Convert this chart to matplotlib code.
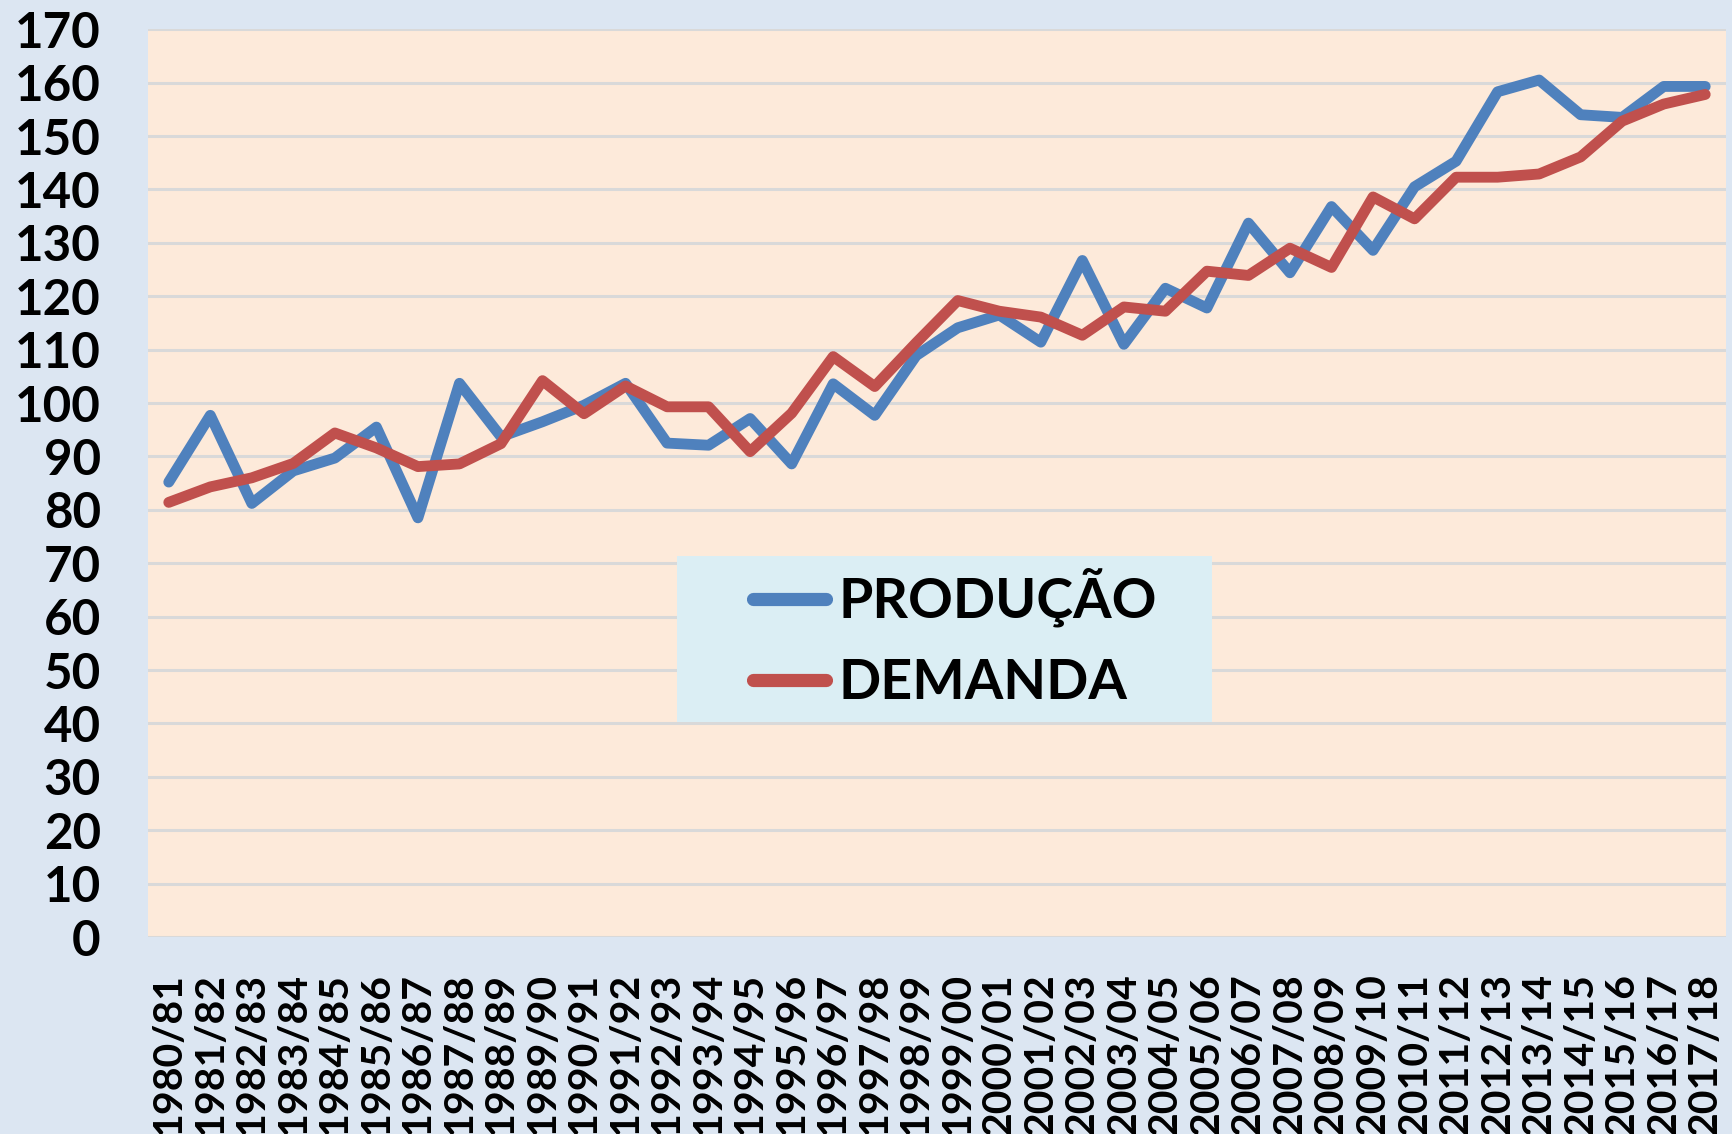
import matplotlib
matplotlib.use("Agg")
import matplotlib.pyplot as plt
from matplotlib.patches import Rectangle

# ---------- dados ----------
safras = ["1980/81", "1981/82", "1982/83", "1983/84", "1984/85", "1985/86",
          "1986/87", "1987/88", "1988/89", "1989/90", "1990/91", "1991/92",
          "1992/93", "1993/94", "1994/95", "1995/96", "1996/97", "1997/98",
          "1998/99", "1999/00", "2000/01", "2001/02", "2002/03", "2003/04",
          "2004/05", "2005/06", "2006/07", "2007/08", "2008/09", "2009/10",
          "2010/11", "2011/12", "2012/13", "2013/14", "2014/15", "2015/16",
          "2016/17", "2017/18"]

producao = [85.2, 97.7, 81.2, 87.3, 89.7, 95.5, 78.5, 103.7, 93.7, 96.5,
            99.6, 103.7, 92.5, 92.1, 97.1, 88.6, 103.6, 97.7, 108.9, 114.1,
            116.5, 111.4, 126.7, 111.0, 121.5, 117.8, 133.7, 124.4, 136.8,
            128.6, 140.5, 145.3, 158.3, 160.5, 154.0, 153.5, 159.3, 159.3]

demanda = [81.4, 84.3, 86.0, 88.7, 94.4, 91.6, 88.1, 88.6, 92.4, 104.2,
           98.0, 103.2, 99.3, 99.3, 90.9, 98.1, 108.7, 103.1, 111.3, 119.2,
           117.2, 116.1, 112.7, 118.0, 117.2, 124.7, 123.9, 129.0, 125.4,
           138.6, 134.5, 142.3, 142.3, 142.9, 146.1, 152.8, 156.0, 157.8]

yticks = list(range(0, 171, 10))

# ---------- estilo ----------
plt.rcParams['font.family'] = ["Lato", "DejaVu Sans"]
plt.rcParams['font.weight'] = 'bold'

W, H = 1733, 1134
fig = plt.figure(figsize=(W / 100, H / 100), dpi=100, facecolor="#DCE6F2")
ax = fig.add_axes([148 / W, (H - 937) / H, 1578 / W, 907.7 / H])
ax.set_facecolor("#FDEADA")

x = list(range(len(safras)))
ax.plot(x, producao, color="#4F81BD", lw=7.8, label="PRODUÇÃO",
        solid_joinstyle="round", solid_capstyle="round", zorder=3)
ax.plot(x, demanda, color="#C0504D", lw=7.8, label="DEMANDA",
        solid_joinstyle="round", solid_capstyle="round", zorder=4)

ax.set_xlim(-0.5, len(safras) - 0.5)
ax.set_ylim(0, 170)
ax.set_yticks(yticks)
ax.set_yticklabels([str(v) for v in yticks])
ax.set_xticks(x)
ax.set_xticklabels(safras, rotation=90, va="top")

ax.grid(axis="y", color="#D9D9D9", lw=2.2, zorder=0)
ax.set_axisbelow(True)
for s in ax.spines.values():
    s.set_visible(False)

ax.tick_params(axis="y", length=0, pad=34, labelsize=35.5)
ax.tick_params(axis="x", length=0, pad=26, labelsize=29.5)

# fundo da legenda (caixa azul clara)
ax.add_patch(Rectangle((677 / W, 1 - 722 / H), 535 / W, 166 / H,
                       transform=fig.transFigure, facecolor="#DBEEF4",
                       edgecolor="none", zorder=5, clip_on=False))

leg = ax.legend(loc="center left", bbox_to_anchor=(753 / W, 1 - 638 / H),
                bbox_transform=fig.transFigure, fontsize=40, frameon=False,
                handlelength=1.32, handletextpad=0.22, labelspacing=0.55,
                borderpad=0, borderaxespad=0)
leg.set_zorder(6)
for t in leg.get_texts():
    t.set_fontweight("bold")
for l in leg.get_lines():
    l.set_linewidth(9.5)
    l.set_solid_capstyle("round")

fig.savefig("out.png", dpi=100, facecolor=fig.get_facecolor())
